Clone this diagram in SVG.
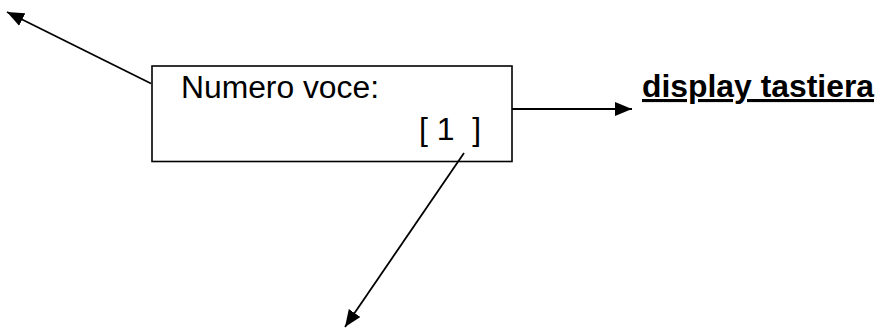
<svg xmlns="http://www.w3.org/2000/svg" width="878" height="328" viewBox="0 0 878 328">
<style>
.box{fill:#fff;stroke:#000;stroke-width:1.6}
.con{stroke:#000;stroke-width:1.8;fill:none}
.t{font-family:"Liberation Sans",Arial,sans-serif;font-size:31px;fill:#000}
.b{font-weight:bold;text-decoration:underline}
</style>
<defs>
<marker id="ah" viewBox="0 0 17 14" refX="17" refY="7" markerWidth="17" markerHeight="14" markerUnits="userSpaceOnUse" orient="auto">
<path d="M0,0 L17,7 L0,14 Z" fill="#000"/>
</marker>
</defs>
<g id="node-voce">
<rect class="box" x="152" y="66" width="360" height="95.5"/>
<text class="t" x="181" y="98" textLength="198" lengthAdjust="spacingAndGlyphs">Numero voce:</text>
<text class="t" x="419" y="140" textLength="62" lengthAdjust="spacingAndGlyphs" xml:space="preserve">[ 1  ]</text>
</g>
<g id="node-display">
<text class="t b" x="642" y="97" textLength="232" lengthAdjust="spacingAndGlyphs">display tastiera</text>
</g>
<g id="connectors">
<line class="con" x1="151" y1="83.5" x2="7" y2="12" marker-end="url(#ah)"/>
<line class="con" x1="512" y1="109" x2="632" y2="109" marker-end="url(#ah)"/>
<line class="con" x1="464" y1="153" x2="345" y2="327" marker-end="url(#ah)"/>
</g>
</svg>
